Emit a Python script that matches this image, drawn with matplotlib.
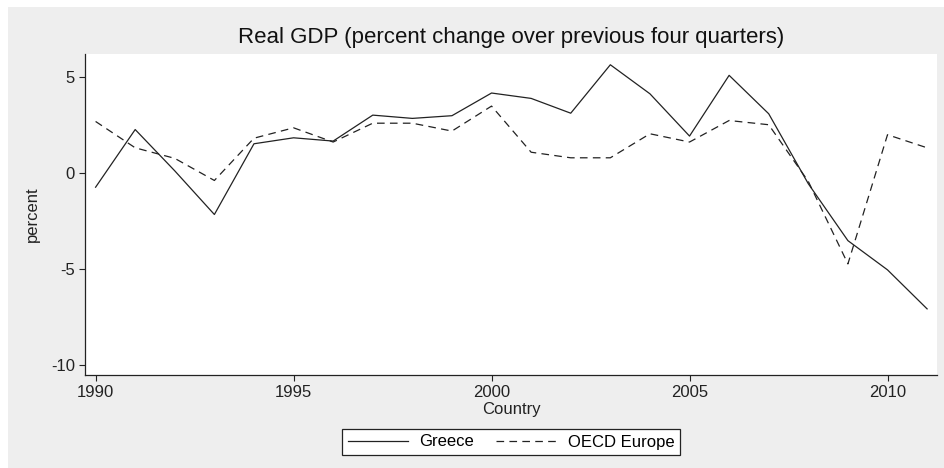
import numpy as np
import matplotlib
matplotlib.use('Agg')
import matplotlib.pyplot as plt
from matplotlib.patches import Rectangle

# data
years = list(range(1990, 2012))
greece = [-0.75, 2.25, 0.1, -2.17, 1.51, 1.82, 1.65, 3.0, 2.83, 2.97, 4.15,
          3.87, 3.1, 5.62, 4.11, 1.91, 5.07, 3.07, -0.57, -3.53, -5.05, -7.08]
oecd = [2.67, 1.3, 0.75, -0.4, 1.8, 2.34, 1.6, 2.58, 2.58, 2.17, 3.47,
        1.07, 0.78, 0.78, 2.03, 1.6, 2.72, 2.5, -0.45, -4.74, 1.98, 1.3]
xticks = [1990, 1995, 2000, 2005, 2010]
yticks = [-10, -5, 0, 5]

plt.rcParams['font.family'] = ['Liberation Sans', 'DejaVu Sans']
plt.rcParams['lines.scale_dashes'] = False
plt.rcParams['axes.unicode_minus'] = False

W, H = 944, 468
fig = plt.figure(figsize=(W/100, H/100), dpi=100)
fig.patch.set_facecolor('white')
# gray graph region (thin white margin left and top)
fig.patches.append(Rectangle((8/W, 0), 1 - 8/W, 1 - 7/H, transform=fig.transFigure,
                             facecolor='#eeeeee', edgecolor='none', zorder=-10))

ax = fig.add_axes([85.3/W, 93/H, (937-85.3)/W, (375-54)/H])
ax.set_facecolor('white')

ax.plot(years, greece, color='#222222', lw=0.9, label='Greece')
ax.plot(years, oecd, color='#222222', lw=0.9, dashes=(5.5, 3.8), label='OECD Europe')

ax.set_xlim(1989.74, 2011.25)
ax.set_ylim(-10.52, 6.18)
ax.set_xticks(xticks)
ax.set_yticks(yticks)
ax.tick_params(direction='out', length=4.5, width=0.8, labelsize=12, pad=3,
               colors='#222222')
for s in ['top', 'right']:
    ax.spines[s].set_visible(False)
for s in ['left', 'bottom']:
    ax.spines[s].set_linewidth(0.9)
    ax.spines[s].set_color('#222222')

ax.set_xlabel('Country', fontsize=12, labelpad=1, color='#222222')
ax.set_ylabel('percent', fontsize=12, labelpad=8, color='#222222')

fig.text(511/W, 1 - 37/H, 'Real GDP (percent change over previous four quarters)',
         ha='center', va='center', fontsize=16, color='#111111')

leg = fig.legend(loc='center', bbox_to_anchor=(511/W, 1 - 442/H), ncol=2,
                 fontsize=12, frameon=True, fancybox=False, edgecolor='#222222',
                 facecolor='white', framealpha=1, handlelength=3.6,
                 handletextpad=0.7, columnspacing=1.3, borderpad=0.35,
                 borderaxespad=0)
leg.get_frame().set_linewidth(0.9)

fig.savefig('out.png', dpi=100)
